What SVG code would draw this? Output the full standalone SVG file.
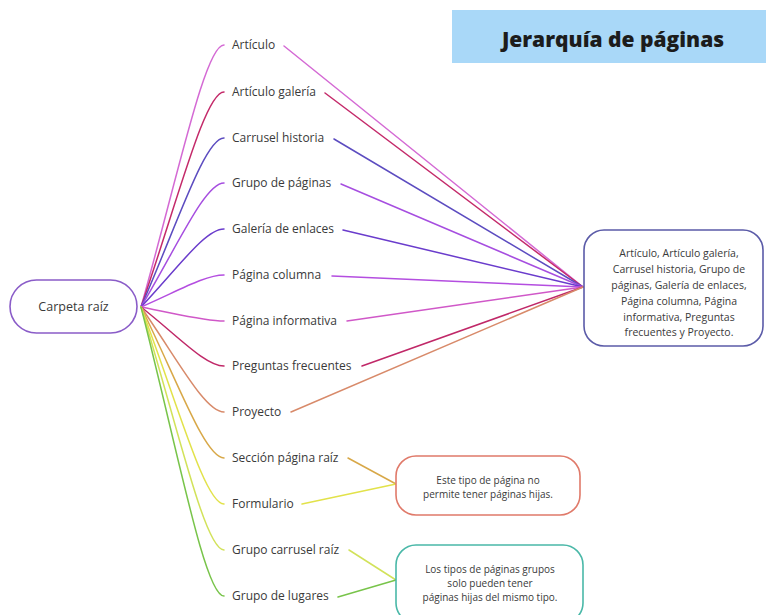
<svg xmlns="http://www.w3.org/2000/svg" width="766" height="615" viewBox="0 0 766 615">
<style>
  .lbl{font-family:"Open Sans","Liberation Sans",sans-serif;font-size:12px;fill:#3a3a3a}
  .note{font-family:"Open Sans","Liberation Sans",sans-serif;font-size:10px;fill:#3a3a3a;text-anchor:middle}
  .c{fill:none;stroke-width:1.5;stroke-linecap:round}
  .box{fill:#fff;stroke-width:1.6}
</style>
<rect width="766" height="615" fill="#fff"/>
<g id="title">
  <rect x="452" y="10" width="320" height="53" fill="#a9d8f8"/>
  <text x="613" y="47" text-anchor="middle" font-family="'Open Sans','Liberation Sans',sans-serif" font-weight="800" font-size="21" fill="#1c1c1c">Jerarquía de páginas</text>
</g>
<g id="connectors">
  <path class="c" stroke="#d46ad4" d="M141,307 C178,176 205,45 224,45"/>
  <path class="c" stroke="#c42a6a" d="M141,307 C178,200 205,92 224,92"/>
  <path class="c" stroke="#5c4cc0" d="M141,307 C178,222 205,138 224,138"/>
  <path class="c" stroke="#a64ee0" d="M141,307 C178,245 205,183 224,183"/>
  <path class="c" stroke="#6a3ccc" d="M141,307 C178,268 205,229 224,229"/>
  <path class="c" stroke="#b44ee0" d="M141,307 C178,291 205,275 224,275"/>
  <path class="c" stroke="#d058c8" d="M141,307 C178,314 205,321 224,321"/>
  <path class="c" stroke="#c02868" d="M141,307 C178,336 205,366 224,366"/>
  <path class="c" stroke="#d88a6a" d="M141,307 C178,360 205,412 224,412"/>
  <path class="c" stroke="#d8a848" d="M141,307 C178,382 205,458 224,458"/>
  <path class="c" stroke="#e2e24a" d="M141,307 C178,405 205,504 224,504"/>
  <path class="c" stroke="#d2e25a" d="M141,307 C178,428 205,550 224,550"/>
  <path class="c" stroke="#78c44a" d="M141,307 C178,452 205,596 224,596"/>

  <path class="c" stroke="#d46ad4" d="M284,46 L583,287"/>
  <path class="c" stroke="#c42a6a" d="M325,93 L583,287"/>
  <path class="c" stroke="#5c4cc0" d="M334,139 L583,287"/>
  <path class="c" stroke="#a64ee0" d="M341,184 L583,287"/>
  <path class="c" stroke="#6a3ccc" d="M343,230 L583,287"/>
  <path class="c" stroke="#b44ee0" d="M332,276 L583,287"/>
  <path class="c" stroke="#d058c8" d="M347,321 L583,287"/>
  <path class="c" stroke="#c02868" d="M362,366 L583,287"/>
  <path class="c" stroke="#d88a6a" d="M291,412 L583,287"/>
  <path class="c" stroke="#d8a848" d="M348,458 L396,484"/>
  <path class="c" stroke="#e2e24a" d="M302,504 L396,484"/>
  <path class="c" stroke="#d2e25a" d="M349,550 L396,580"/>
  <path class="c" stroke="#78c44a" d="M338,597 L396,580"/>
</g>
<g id="root">
  <rect class="box" x="10" y="280" width="127" height="53" rx="26.5" stroke="#8a5cc8"/>
  <text x="73.5" y="311" text-anchor="middle" font-family="'Open Sans','Liberation Sans',sans-serif" font-size="12.5" fill="#3a3a3a">Carpeta raíz</text>
</g>
<g id="n-articulo"><text class="lbl" x="232" y="49">Artículo</text></g>
<g id="n-articulo-galeria"><text class="lbl" x="232" y="96">Artículo galería</text></g>
<g id="n-carrusel-historia"><text class="lbl" x="232" y="142">Carrusel historia</text></g>
<g id="n-grupo-paginas"><text class="lbl" x="232" y="187">Grupo de páginas</text></g>
<g id="n-galeria-enlaces"><text class="lbl" x="232" y="233">Galería de enlaces</text></g>
<g id="n-pagina-columna"><text class="lbl" x="232" y="279">Página columna</text></g>
<g id="n-pagina-informativa"><text class="lbl" x="232" y="325">Página informativa</text></g>
<g id="n-preguntas"><text class="lbl" x="232" y="370">Preguntas frecuentes</text></g>
<g id="n-proyecto"><text class="lbl" x="232" y="416">Proyecto</text></g>
<g id="n-seccion"><text class="lbl" x="232" y="462">Sección página raíz</text></g>
<g id="n-formulario"><text class="lbl" x="232" y="508">Formulario</text></g>
<g id="n-grupo-carrusel"><text class="lbl" x="232" y="554">Grupo carrusel raíz</text></g>
<g id="n-grupo-lugares"><text class="lbl" x="232" y="600">Grupo de lugares</text></g>
<g id="note-hijas">
  <rect class="box" x="584" y="230" width="179" height="116" rx="20" stroke="#5b5ba8"/>
  <text class="note" font-size="10.5" x="679" y="257" style="font-size:10.5px">Artículo, Artículo galería,</text>
  <text class="note" x="679" y="273" style="font-size:10.5px">Carrusel historia, Grupo de</text>
  <text class="note" x="679" y="289" style="font-size:10.5px">páginas, Galería de enlaces,</text>
  <text class="note" x="679" y="305" style="font-size:10.5px">Página columna, Página</text>
  <text class="note" x="679" y="321" style="font-size:10.5px">informativa, Preguntas</text>
  <text class="note" x="679" y="336" style="font-size:10.5px">frecuentes y Proyecto.</text>
</g>
<g id="note-sin-hijas">
  <rect class="box" x="396" y="456" width="184" height="59" rx="20" stroke="#e07a6a"/>
  <text class="note" x="488" y="483.5">Este tipo de página no</text>
  <text class="note" x="488" y="497.5">permite tener páginas hijas.</text>
</g>
<g id="note-grupos">
  <rect class="box" x="396" y="545" width="187" height="78" rx="20" stroke="#4ab8a8"/>
  <text class="note" x="490" y="573">Los tipos de páginas grupos</text>
  <text class="note" x="490" y="587">solo pueden tener</text>
  <text class="note" x="490" y="601">páginas hijas del mismo tipo.</text>
</g>
</svg>
